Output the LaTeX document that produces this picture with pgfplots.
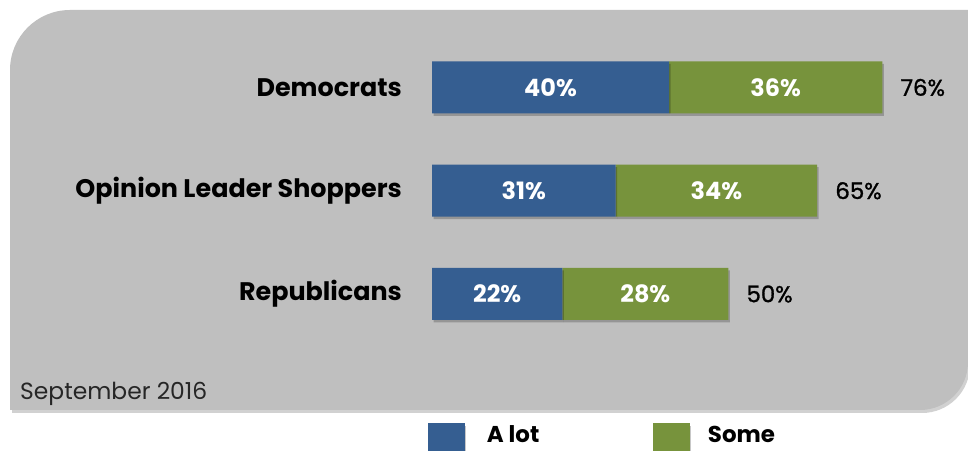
\documentclass[border=0pt]{standalone}
\usepackage{pgfplots}
\pgfplotsset{compat=1.18}
\usepackage{fontspec}
\setmainfont{Poppins}
\newfontfamily\medfont[FakeBold=1.2]{Poppins}
\definecolor{barblue}{RGB}{53,94,145}
\definecolor{bargreen}{RGB}{119,147,60}
\definecolor{panel}{RGB}{191,191,191}
\begin{document}
\begin{tikzpicture}[x=1bp,y=1bp]
\useasboundingbox (0,0) rectangle (968,451);
% panel shadow and panel
\fill[black,opacity=0.18,shift={(2,-3)}] (10,41) -- (10,381) arc[start angle=180,end angle=90,radius=60] -- (968,441) -- (968,89) arc[start angle=0,end angle=-90,radius=48] -- cycle;
\fill[panel] (10,41) -- (10,381) arc[start angle=180,end angle=90,radius=60] -- (968,441) -- (968,89) arc[start angle=0,end angle=-90,radius=48] -- cycle;
\node[anchor=base west,inner sep=0pt,font=\fontsize{23.5}{28}\selectfont,text=black!85] at (20,51) {September 2016};
\begin{axis}[
  at={(432bp,0bp)}, anchor=south west,
  scale only axis, width=536bp, height=451bp,
  xmin=0, xmax=90.46, ymin=-1.5206, ymax=2.8475,
  xbar stacked, bar width=0.5036,
  axis line style={draw=none}, major tick length=0pt,
  xtick=\empty, ytick={0,1,2},
  yticklabels={Republicans, Opinion Leader Shoppers, Democrats},
  yticklabel style={font=\fontsize{25.5}{30}\selectfont\bfseries, anchor=east, inner sep=0pt, xshift=-30bp},
  clip=false,
  legend columns=2,
  legend style={at={(axis description cs:-0.0075,0.022)}, anchor=west, draw=none, fill=none, inner sep=0pt, outer sep=0pt,
    font=\fontsize{23}{28}\selectfont\bfseries, nodes={inner sep=0pt}},
  legend image code/.code={\fill[#1,draw=none] (0bp,-24bp) rectangle (37bp,12bp);},
]
\addplot[fill=barblue, draw=none, preaction={fill=black, opacity=0.22, transform canvas={shift={(1.5bp,-2.5bp)}}}] coordinates {(22,0) (31,1) (40,2)};
\addlegendentry{\hspace{22bp}\makebox[166bp][l]{A lot}}
\addplot[fill=bargreen, draw=none, preaction={fill=black, opacity=0.22, transform canvas={shift={(1.5bp,-2.5bp)}}}] coordinates {(28,0) (34,1) (36,2)};
\addlegendentry{\hspace{18bp}Some}
\end{axis}
\begin{axis}[
  at={(432bp,0bp)}, anchor=south west,
  scale only axis, width=536bp, height=451bp,
  xmin=0, xmax=90.46, ymin=-1.5206, ymax=2.8475,
  hide axis, clip=false,
]
\addplot[draw=none, mark=none, nodes near coords, point meta=explicit symbolic,
  nodes near coords align=center,
  every node near coord/.append style={font=\fontsize{24}{29}\selectfont\bfseries, text=white, anchor=center}]
  coordinates {(11,0) [22\%] (15.5,1) [31\%] (20,2) [40\%] (36,0) [28\%] (48,1) [34\%] (58,2) [36\%]};
\addplot[draw=none, mark=none, nodes near coords, point meta=explicit symbolic,
  every node near coord/.append style={font=\fontsize{23}{28}\selectfont\medfont, text=black, anchor=west, xshift=18bp, inner sep=0pt}]
  coordinates {(50,0) [50\%] (65,1) [65\%] (76,2) [76\%]};
\end{axis}
\end{tikzpicture}
\end{document}
